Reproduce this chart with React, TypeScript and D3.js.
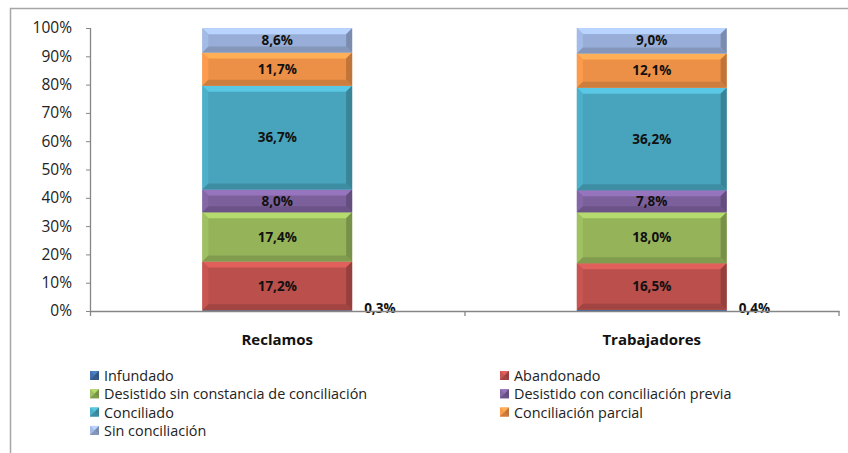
import * as d3 from "d3";

const categories = ["Reclamos", "Trabajadores"];
const seriesNames = [
  "Infundado",
  "Abandonado",
  "Desistido sin constancia de conciliación",
  "Desistido con conciliación previa",
  "Conciliado",
  "Conciliación parcial",
  "Sin conciliación",
];
const reclamos = [0.3, 17.2, 17.4, 8.0, 36.7, 11.7, 8.6];
const trabajadores = [0.4, 16.5, 18.0, 7.8, 36.2, 12.1, 9.0];
const colors = ["#3E68A0", "#BA4F4C", "#95B45A", "#7C609C", "#48A4BC", "#EC9047", "#98AED8"];
const yTicks = [0, 10, 20, 30, 40, 50, 60, 70, 80, 90, 100];

const width = 848;
const height = 453;
const font = "'Open Sans', sans-serif";

const fmt = (v: number) => v.toFixed(1).replace(".", ",") + "%";

// one bevelled block, Excel 2007 style
const Bevel = ({ x0, x1, y0, y1, color }: { x0: number; x1: number; y0: number; y1: number; color: string }) => {
  const h = y1 - y0;
  const b = Math.min(6, h / 2);
  const c = d3.color(color)!;
  const light = c.brighter(0.55).toString();
  const lightL = c.brighter(0.2).toString();
  const dark = c.darker(0.6).toString();
  const darkB = c.darker(0.4).toString();
  const pts = (p: number[][]) => p.map((d) => d.join(",")).join(" ");
  return (
    <g>
      <rect x={x0} y={y0} width={x1 - x0} height={h} fill={color} />
      {b > 0.5 && (
        <>
          <polygon points={pts([[x0, y0], [x1, y0], [x1 - b, y0 + b], [x0 + b, y0 + b]])} fill={light} />
          <polygon points={pts([[x0, y0], [x0 + b, y0 + b], [x0 + b, y1 - b], [x0, y1]])} fill={lightL} />
          <polygon points={pts([[x1, y0], [x1, y1], [x1 - b, y1 - b], [x1 - b, y0 + b]])} fill={dark} />
          <polygon points={pts([[x0, y1], [x0 + b, y1 - b], [x1 - b, y1 - b], [x1, y1]])} fill={darkB} />
        </>
      )}
    </g>
  );
};

export default function App() {
  const x = d3.scaleBand<string>().domain(categories).range([90, 839]).paddingInner(0.6).paddingOuter(0.3);
  const y = d3.scaleLinear().domain([0, 100]).range([311, 28]);

  const rows = categories.map((c, i) => {
    const vals = i === 0 ? reclamos : trabajadores;
    const o: any = { cat: c };
    seriesNames.forEach((s, j) => (o[s] = vals[j]));
    return o;
  });
  const stacked = d3.stack<any>().keys(seriesNames)(rows);

  const bw = x.bandwidth();

  return (
    <svg width={width} height={height} style={{ position: "absolute", left: 0, top: 0 }} fontFamily={font}>
      <rect x={0} y={0} width={width} height={height} fill="#fff" />
      <path d={`M10.5,${height} V8.5 H${width}`} fill="none" stroke="#a6a6a6" strokeWidth={1.5} />

      {/* bars */}
      {stacked.map((layer, si) =>
        layer.map((d, ci) => {
          const x0 = x(categories[ci])!;
          return (
            <Bevel
              key={`${si}-${ci}`}
              x0={x0}
              x1={x0 + bw}
              y0={y(d[1])}
              y1={y(d[0])}
              color={colors[si]}
            />
          );
        })
      )}

      {/* data labels */}
      {stacked.map((layer, si) =>
        layer.map((d, ci) => {
          const v = d[1] - d[0];
          const x0 = x(categories[ci])!;
          const small = v < 2;
          return (
            <text
              key={`l${si}-${ci}`}
              x={small ? x0 + bw + 12 : x0 + bw / 2}
              y={small ? y(0) - 3 : y((d[0] + d[1]) / 2)}
              dy="0.35em"
              textAnchor={small ? "start" : "middle"}
              fontSize={13.5}
              fontWeight="bold"
              fill="#111"
            >
              {fmt(v)}
            </text>
          );
        })
      )}

      {/* y axis */}
      <line x1={90.5} x2={90.5} y1={y(100)} y2={y(0)} stroke="#868686" strokeWidth={1.3} />
      {yTicks.map((t) => (
        <g key={t}>
          <line x1={86} x2={90.5} y1={y(t) + 0.5} y2={y(t) + 0.5} stroke="#868686" />
          <text x={72} y={y(t)} dy="0.35em" textAnchor="end" fontSize={15.5} fill="#222">
            {t}%
          </text>
        </g>
      ))}

      {/* x axis */}
      <line x1={90} x2={839.5} y1={y(0) + 0.5} y2={y(0) + 0.5} stroke="#868686" strokeWidth={1.3} />
      {[90.5, 465, 839].map((t) => (
        <line key={t} x1={t} x2={t} y1={y(0)} y2={y(0) + 5} stroke="#868686" strokeWidth={1.3} />
      ))}
      {categories.map((c) => (
        <text key={c} x={x(c)! + bw / 2} y={340} dy="0.35em" textAnchor="middle" fontSize={15} fontWeight="bold" fill="#111">
          {c}
        </text>
      ))}

      {/* legend */}
      {seriesNames.map((s, i) => {
        const col = i % 2;
        const row = Math.floor(i / 2);
        const lx = col === 0 ? 90 : 500;
        const ly = 376 + row * 18.3;
        return (
          <g key={s}>
            <Bevel x0={lx} x1={lx + 9} y0={ly - 5} y1={ly + 4} color={colors[i]} />
            <text x={lx + 14} y={ly} dy="0.35em" fontSize={14.4} fill="#222">
              {s}
            </text>
          </g>
        );
      })}
    </svg>
  );
}
